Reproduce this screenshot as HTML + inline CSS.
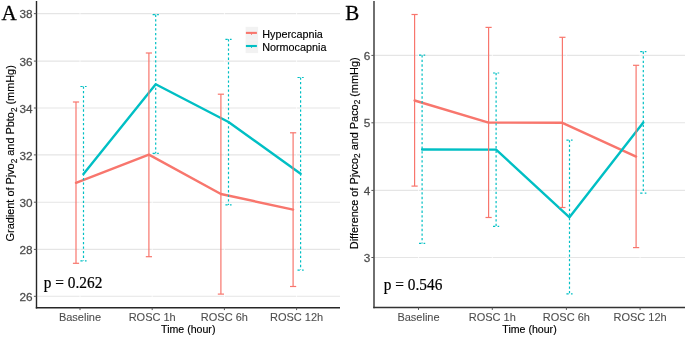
<!DOCTYPE html>
<html><head><meta charset="utf-8"><style>
html,body{margin:0;padding:0;background:#fff;}
body{width:685px;height:337px;overflow:hidden;}
svg{display:block;will-change:transform;}
text{font-family:"Liberation Sans",sans-serif;}
.tk{font-size:11px;fill:#4D4D4D;stroke:#4D4D4D;stroke-width:0.25px;}
.tkx{stroke-width:0.08px;}
.ti{font-size:10.6px;fill:#000;stroke:#000;stroke-width:0.15px;}
.lg{font-size:10.8px;fill:#000;stroke:#000;stroke-width:0.15px;}
.yt{font-size:10.9px;fill:#000;stroke:#000;stroke-width:0.15px;}
.pv{font-family:"Liberation Serif",serif;font-size:15.8px;fill:#000;stroke:#000;stroke-width:0.2px;}
.lt{font-family:"Liberation Serif",serif;font-size:21px;fill:#000;stroke:#000;stroke-width:0.3px;}
</style></head><body>
<svg width="685" height="337" viewBox="0 0 685 337">
<rect width="685" height="337" fill="#fff"/>
<line x1="37.2" y1="13.65" x2="340" y2="13.65" stroke="#E5E5E5" stroke-width="1.1"/>
<line x1="37.2" y1="61.1" x2="340" y2="61.1" stroke="#E5E5E5" stroke-width="1.1"/>
<line x1="37.2" y1="108.0" x2="340" y2="108.0" stroke="#E5E5E5" stroke-width="1.1"/>
<line x1="37.2" y1="154.9" x2="340" y2="154.9" stroke="#E5E5E5" stroke-width="1.1"/>
<line x1="37.2" y1="202.2" x2="340" y2="202.2" stroke="#E5E5E5" stroke-width="1.1"/>
<line x1="37.2" y1="249.4" x2="340" y2="249.4" stroke="#E5E5E5" stroke-width="1.1"/>
<line x1="37.2" y1="296.3" x2="340" y2="296.3" stroke="#E5E5E5" stroke-width="1.1"/>
<line x1="80.0" y1="1" x2="80.0" y2="307.7" stroke="#FFFFFF" stroke-width="0.8"/>
<line x1="152.2" y1="1" x2="152.2" y2="307.7" stroke="#FFFFFF" stroke-width="0.8"/>
<line x1="224.4" y1="1" x2="224.4" y2="307.7" stroke="#FFFFFF" stroke-width="0.8"/>
<line x1="296.6" y1="1" x2="296.6" y2="307.7" stroke="#FFFFFF" stroke-width="0.8"/>
<polyline points="76.0,182.8 148.9,154.6 220.9,194.0 293.1,209.6" fill="none" stroke="#F8766D" stroke-width="2.4" stroke-linejoin="round" stroke-linecap="round"/>
<polyline points="83.5,174.1 155.7,84.2 228.5,122.0 300.6,173.7" fill="none" stroke="#00BFC4" stroke-width="2.4" stroke-linejoin="round" stroke-linecap="round"/>
<line x1="76.0" y1="102.0" x2="76.0" y2="263.3" stroke="#F8766D" stroke-width="1.2"/>
<line x1="72.9" y1="102.0" x2="79.1" y2="102.0" stroke="#F8766D" stroke-width="1.2"/>
<line x1="72.9" y1="263.3" x2="79.1" y2="263.3" stroke="#F8766D" stroke-width="1.2"/>
<line x1="148.9" y1="53.0" x2="148.9" y2="256.7" stroke="#F8766D" stroke-width="1.2"/>
<line x1="145.8" y1="53.0" x2="152.0" y2="53.0" stroke="#F8766D" stroke-width="1.2"/>
<line x1="145.8" y1="256.7" x2="152.0" y2="256.7" stroke="#F8766D" stroke-width="1.2"/>
<line x1="220.9" y1="94.2" x2="220.9" y2="294.1" stroke="#F8766D" stroke-width="1.2"/>
<line x1="217.8" y1="94.2" x2="224.0" y2="94.2" stroke="#F8766D" stroke-width="1.2"/>
<line x1="217.8" y1="294.1" x2="224.0" y2="294.1" stroke="#F8766D" stroke-width="1.2"/>
<line x1="293.1" y1="132.8" x2="293.1" y2="286.5" stroke="#F8766D" stroke-width="1.2"/>
<line x1="290.0" y1="132.8" x2="296.20000000000005" y2="132.8" stroke="#F8766D" stroke-width="1.2"/>
<line x1="290.0" y1="286.5" x2="296.20000000000005" y2="286.5" stroke="#F8766D" stroke-width="1.2"/>
<line x1="83.5" y1="86.5" x2="83.5" y2="260.8" stroke="#00BFC4" stroke-width="1.2" stroke-dasharray="2.3 2.27"/>
<line x1="80.4" y1="86.5" x2="86.6" y2="86.5" stroke="#00BFC4" stroke-width="1.2" stroke-dasharray="2.3 2.27"/>
<line x1="80.4" y1="260.8" x2="86.6" y2="260.8" stroke="#00BFC4" stroke-width="1.2" stroke-dasharray="2.3 2.27"/>
<line x1="155.7" y1="14.6" x2="155.7" y2="153.4" stroke="#00BFC4" stroke-width="1.2" stroke-dasharray="2.3 2.27"/>
<line x1="152.6" y1="14.6" x2="158.79999999999998" y2="14.6" stroke="#00BFC4" stroke-width="1.2" stroke-dasharray="2.3 2.27"/>
<line x1="152.6" y1="153.4" x2="158.79999999999998" y2="153.4" stroke="#00BFC4" stroke-width="1.2" stroke-dasharray="2.3 2.27"/>
<line x1="228.5" y1="39.3" x2="228.5" y2="204.9" stroke="#00BFC4" stroke-width="1.2" stroke-dasharray="2.3 2.27"/>
<line x1="225.4" y1="39.3" x2="231.6" y2="39.3" stroke="#00BFC4" stroke-width="1.2" stroke-dasharray="2.3 2.27"/>
<line x1="225.4" y1="204.9" x2="231.6" y2="204.9" stroke="#00BFC4" stroke-width="1.2" stroke-dasharray="2.3 2.27"/>
<line x1="300.6" y1="77.5" x2="300.6" y2="270.1" stroke="#00BFC4" stroke-width="1.2" stroke-dasharray="2.3 2.27"/>
<line x1="297.5" y1="77.5" x2="303.70000000000005" y2="77.5" stroke="#00BFC4" stroke-width="1.2" stroke-dasharray="2.3 2.27"/>
<line x1="297.5" y1="270.1" x2="303.70000000000005" y2="270.1" stroke="#00BFC4" stroke-width="1.2" stroke-dasharray="2.3 2.27"/>
<line x1="36.5" y1="1" x2="36.5" y2="308.4" stroke="#262626" stroke-width="1.4"/>
<line x1="35.8" y1="307.7" x2="340" y2="307.7" stroke="#262626" stroke-width="1.4"/>
<line x1="33.9" y1="13.65" x2="36.5" y2="13.65" stroke="#555555" stroke-width="1.0"/>
<text transform="translate(32.6,18.35) scale(1.07,1)" text-anchor="end" class="tk">38</text>
<line x1="33.9" y1="61.1" x2="36.5" y2="61.1" stroke="#555555" stroke-width="1.0"/>
<text transform="translate(32.6,65.8) scale(1.07,1)" text-anchor="end" class="tk">36</text>
<line x1="33.9" y1="108.0" x2="36.5" y2="108.0" stroke="#555555" stroke-width="1.0"/>
<text transform="translate(32.6,112.7) scale(1.07,1)" text-anchor="end" class="tk">34</text>
<line x1="33.9" y1="154.9" x2="36.5" y2="154.9" stroke="#555555" stroke-width="1.0"/>
<text transform="translate(32.6,159.6) scale(1.07,1)" text-anchor="end" class="tk">32</text>
<line x1="33.9" y1="202.2" x2="36.5" y2="202.2" stroke="#555555" stroke-width="1.0"/>
<text transform="translate(32.6,206.89999999999998) scale(1.07,1)" text-anchor="end" class="tk">30</text>
<line x1="33.9" y1="249.4" x2="36.5" y2="249.4" stroke="#555555" stroke-width="1.0"/>
<text transform="translate(32.6,254.1) scale(1.07,1)" text-anchor="end" class="tk">28</text>
<line x1="33.9" y1="296.3" x2="36.5" y2="296.3" stroke="#555555" stroke-width="1.0"/>
<text transform="translate(32.6,301.0) scale(1.07,1)" text-anchor="end" class="tk">26</text>
<line x1="80.0" y1="307.7" x2="80.0" y2="310.09999999999997" stroke="#555555" stroke-width="1.0"/>
<text x="80.0" y="321.09999999999997" text-anchor="middle" class="tk tkx">Baseline</text>
<line x1="152.2" y1="307.7" x2="152.2" y2="310.09999999999997" stroke="#555555" stroke-width="1.0"/>
<text x="152.2" y="321.09999999999997" text-anchor="middle" class="tk tkx">ROSC 1h</text>
<line x1="224.4" y1="307.7" x2="224.4" y2="310.09999999999997" stroke="#555555" stroke-width="1.0"/>
<text x="224.4" y="321.09999999999997" text-anchor="middle" class="tk tkx">ROSC 6h</text>
<line x1="296.6" y1="307.7" x2="296.6" y2="310.09999999999997" stroke="#555555" stroke-width="1.0"/>
<text x="296.6" y="321.09999999999997" text-anchor="middle" class="tk tkx">ROSC 12h</text>
<text x="188.25" y="332.9" text-anchor="middle" class="ti">Time (hour)</text>
<text transform="translate(13.8,153.3) rotate(-90)" text-anchor="middle" class="yt"><tspan dy="0">Gradient of Pjvo</tspan><tspan font-size="8.2" dy="2.8">2</tspan><tspan dy="-2.8"> and Pbto</tspan><tspan font-size="8.2" dy="2.8">2</tspan><tspan dy="-2.8"> (mmHg)</tspan></text>
<text x="43.8" y="288.4" class="pv" textLength="58.5" lengthAdjust="spacingAndGlyphs">p = 0.262</text>
<text x="1.5" y="19.9" class="lt">A</text>
<line x1="374.7" y1="55.4" x2="685" y2="55.4" stroke="#E5E5E5" stroke-width="1.1"/>
<line x1="374.7" y1="122.8" x2="685" y2="122.8" stroke="#E5E5E5" stroke-width="1.1"/>
<line x1="374.7" y1="190.4" x2="685" y2="190.4" stroke="#E5E5E5" stroke-width="1.1"/>
<line x1="374.7" y1="257.5" x2="685" y2="257.5" stroke="#E5E5E5" stroke-width="1.1"/>
<line x1="418.5" y1="1" x2="418.5" y2="307.5" stroke="#FFFFFF" stroke-width="0.8"/>
<line x1="492.3" y1="1" x2="492.3" y2="307.5" stroke="#FFFFFF" stroke-width="0.8"/>
<line x1="566.4" y1="1" x2="566.4" y2="307.5" stroke="#FFFFFF" stroke-width="0.8"/>
<line x1="640.1" y1="1" x2="640.1" y2="307.5" stroke="#FFFFFF" stroke-width="0.8"/>
<polyline points="414.6,100.5 488.6,122.6 562.4,122.8 636.1,156.6" fill="none" stroke="#F8766D" stroke-width="2.4" stroke-linejoin="round" stroke-linecap="round"/>
<polyline points="422.1,149.5 496.1,149.6 569.5,217.3 643.3,122.4" fill="none" stroke="#00BFC4" stroke-width="2.4" stroke-linejoin="round" stroke-linecap="round"/>
<line x1="414.6" y1="14.5" x2="414.6" y2="186.1" stroke="#F8766D" stroke-width="1.2"/>
<line x1="411.5" y1="14.5" x2="417.70000000000005" y2="14.5" stroke="#F8766D" stroke-width="1.2"/>
<line x1="411.5" y1="186.1" x2="417.70000000000005" y2="186.1" stroke="#F8766D" stroke-width="1.2"/>
<line x1="488.6" y1="27.4" x2="488.6" y2="217.5" stroke="#F8766D" stroke-width="1.2"/>
<line x1="485.5" y1="27.4" x2="491.70000000000005" y2="27.4" stroke="#F8766D" stroke-width="1.2"/>
<line x1="485.5" y1="217.5" x2="491.70000000000005" y2="217.5" stroke="#F8766D" stroke-width="1.2"/>
<line x1="562.4" y1="37.3" x2="562.4" y2="207.5" stroke="#F8766D" stroke-width="1.2"/>
<line x1="559.3" y1="37.3" x2="565.5" y2="37.3" stroke="#F8766D" stroke-width="1.2"/>
<line x1="559.3" y1="207.5" x2="565.5" y2="207.5" stroke="#F8766D" stroke-width="1.2"/>
<line x1="636.1" y1="65.3" x2="636.1" y2="247.6" stroke="#F8766D" stroke-width="1.2"/>
<line x1="633.0" y1="65.3" x2="639.2" y2="65.3" stroke="#F8766D" stroke-width="1.2"/>
<line x1="633.0" y1="247.6" x2="639.2" y2="247.6" stroke="#F8766D" stroke-width="1.2"/>
<line x1="422.1" y1="55.2" x2="422.1" y2="243.4" stroke="#00BFC4" stroke-width="1.2" stroke-dasharray="2.3 2.27"/>
<line x1="419.0" y1="55.2" x2="425.20000000000005" y2="55.2" stroke="#00BFC4" stroke-width="1.2" stroke-dasharray="2.3 2.27"/>
<line x1="419.0" y1="243.4" x2="425.20000000000005" y2="243.4" stroke="#00BFC4" stroke-width="1.2" stroke-dasharray="2.3 2.27"/>
<line x1="496.1" y1="73.0" x2="496.1" y2="226.4" stroke="#00BFC4" stroke-width="1.2" stroke-dasharray="2.3 2.27"/>
<line x1="493.0" y1="73.0" x2="499.20000000000005" y2="73.0" stroke="#00BFC4" stroke-width="1.2" stroke-dasharray="2.3 2.27"/>
<line x1="493.0" y1="226.4" x2="499.20000000000005" y2="226.4" stroke="#00BFC4" stroke-width="1.2" stroke-dasharray="2.3 2.27"/>
<line x1="569.5" y1="140.2" x2="569.5" y2="293.8" stroke="#00BFC4" stroke-width="1.2" stroke-dasharray="2.3 2.27"/>
<line x1="566.4" y1="140.2" x2="572.6" y2="140.2" stroke="#00BFC4" stroke-width="1.2" stroke-dasharray="2.3 2.27"/>
<line x1="566.4" y1="293.8" x2="572.6" y2="293.8" stroke="#00BFC4" stroke-width="1.2" stroke-dasharray="2.3 2.27"/>
<line x1="643.3" y1="51.6" x2="643.3" y2="193.1" stroke="#00BFC4" stroke-width="1.2" stroke-dasharray="2.3 2.27"/>
<line x1="640.1999999999999" y1="51.6" x2="646.4" y2="51.6" stroke="#00BFC4" stroke-width="1.2" stroke-dasharray="2.3 2.27"/>
<line x1="640.1999999999999" y1="193.1" x2="646.4" y2="193.1" stroke="#00BFC4" stroke-width="1.2" stroke-dasharray="2.3 2.27"/>
<line x1="374.0" y1="1" x2="374.0" y2="308.2" stroke="#333333" stroke-width="1.4"/>
<line x1="373.3" y1="307.5" x2="685" y2="307.5" stroke="#333333" stroke-width="1.4"/>
<line x1="371.4" y1="55.4" x2="374.0" y2="55.4" stroke="#555555" stroke-width="1.0"/>
<text transform="translate(370.2,59.9) scale(1.07,1)" text-anchor="end" class="tk">6</text>
<line x1="371.4" y1="122.8" x2="374.0" y2="122.8" stroke="#555555" stroke-width="1.0"/>
<text transform="translate(370.2,127.3) scale(1.07,1)" text-anchor="end" class="tk">5</text>
<line x1="371.4" y1="190.4" x2="374.0" y2="190.4" stroke="#555555" stroke-width="1.0"/>
<text transform="translate(370.2,194.9) scale(1.07,1)" text-anchor="end" class="tk">4</text>
<line x1="371.4" y1="257.5" x2="374.0" y2="257.5" stroke="#555555" stroke-width="1.0"/>
<text transform="translate(370.2,262.0) scale(1.07,1)" text-anchor="end" class="tk">3</text>
<line x1="418.5" y1="307.5" x2="418.5" y2="309.9" stroke="#555555" stroke-width="1.0"/>
<text x="418.5" y="320.9" text-anchor="middle" class="tk tkx">Baseline</text>
<line x1="492.3" y1="307.5" x2="492.3" y2="309.9" stroke="#555555" stroke-width="1.0"/>
<text x="492.3" y="320.9" text-anchor="middle" class="tk tkx">ROSC 1h</text>
<line x1="566.4" y1="307.5" x2="566.4" y2="309.9" stroke="#555555" stroke-width="1.0"/>
<text x="566.4" y="320.9" text-anchor="middle" class="tk tkx">ROSC 6h</text>
<line x1="640.1" y1="307.5" x2="640.1" y2="309.9" stroke="#555555" stroke-width="1.0"/>
<text x="640.1" y="320.9" text-anchor="middle" class="tk tkx">ROSC 12h</text>
<text x="529.5" y="332.9" text-anchor="middle" class="ti">Time (hour)</text>
<text transform="translate(357.5,153.3) rotate(-90)" text-anchor="middle" class="yt"><tspan dy="0">Difference of Pjvco</tspan><tspan font-size="8.2" dy="2.8">2</tspan><tspan dy="-2.8"> and Paco</tspan><tspan font-size="8.2" dy="2.8">2</tspan><tspan dy="-2.8"> (mmHg)</tspan></text>
<text x="383.8" y="289.9" class="pv" textLength="58.5" lengthAdjust="spacingAndGlyphs">p = 0.546</text>
<text x="345.2" y="19.9" class="lt">B</text>
<rect x="245.6" y="26.8" width="12.5" height="13.1" fill="#F2F2F2"/>
<rect x="245.6" y="40.1" width="12.5" height="13.0" fill="#F2F2F2"/>
<line x1="245.9" y1="32.9" x2="256.9" y2="32.9" stroke="#F8766D" stroke-width="2.1"/>
<line x1="251.5" y1="32.9" x2="251.5" y2="34.8" stroke="#F8766D" stroke-width="1"/>
<line x1="245.9" y1="46.0" x2="256.9" y2="46.0" stroke="#00BFC4" stroke-width="2.1"/>
<line x1="251.5" y1="46.0" x2="251.5" y2="47.8" stroke="#00BFC4" stroke-width="1"/>
<text x="262.2" y="37.9" class="lg">Hypercapnia</text>
<text x="262.2" y="51.1" class="lg">Normocapnia</text>
</svg>
</body></html>
